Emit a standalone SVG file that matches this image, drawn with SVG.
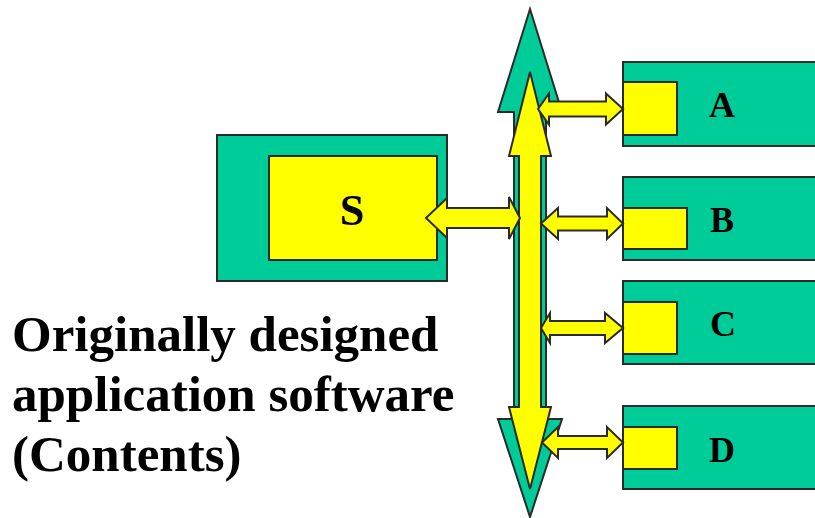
<svg xmlns="http://www.w3.org/2000/svg" width="815" height="518" viewBox="0 0 815 518">
  <style>
    .green { fill: #00CC99; stroke: #2a2a2a; stroke-width: 2; }
    .yellow { fill: #FFFF00; stroke: #2a2a2a; stroke-width: 2; stroke-linejoin: miter; }
    .label { font-family: "Liberation Serif", "Times New Roman", serif; font-weight: bold; fill: #000; }
  </style>
  <rect width="815" height="518" fill="#fff"/>

  <!-- bus: green double arrow with yellow double arrow on top -->
  <g id="bus">
    <polygon class="green" points="530,9 562,112 546,112 546,419 562,419 530,517 498,419 514,419 514,112 498,112"/>
    <polygon class="yellow" points="530,72 551,156 541,156 541,407 551,407 530,489 509,407 519,407 519,156 509,156"/>
  </g>

  <g id="node-S">
    <rect class="green" x="217" y="135" width="230" height="146"/>
    <rect class="yellow" x="269" y="156" width="168" height="104"/>
    <text class="label" x="352" y="225" font-size="44" text-anchor="middle">S</text>
  </g>

  <g id="node-A">
    <rect class="green" x="623" y="62" width="210" height="84"/>
    <rect class="yellow" x="623" y="82" width="54" height="53"/>
    <text class="label" x="722" y="117" font-size="36" text-anchor="middle">A</text>
  </g>

  <g id="node-B">
    <rect class="green" x="623" y="177" width="210" height="83"/>
    <rect class="yellow" x="623" y="208" width="64" height="41"/>
    <text class="label" x="722" y="232" font-size="36" text-anchor="middle">B</text>
  </g>

  <g id="node-C">
    <rect class="green" x="623" y="281" width="210" height="83"/>
    <rect class="yellow" x="623" y="302" width="54" height="52"/>
    <text class="label" x="723" y="336" font-size="36" text-anchor="middle">C</text>
  </g>

  <g id="node-D">
    <rect class="green" x="623" y="406" width="210" height="83"/>
    <rect class="yellow" x="623" y="427" width="54" height="42"/>
    <text class="label" x="722" y="462" font-size="36" text-anchor="middle">D</text>
  </g>

  <!-- double-headed block arrows between bus and nodes -->
  <g id="connectors">
    <polygon class="yellow" points="426,218 447,198 447,208 509,208 509,197 520,218 509,239 509,228 447,228 447,238"/>
    <polygon class="yellow" points="538,109 549,93.5 549,101.5 606,101.5 606,93.5 623,109 606,124.5 606,116.5 549,116.5 549,124.5"/>
    <polygon class="yellow" points="541,223.5 558,208 558,216.5 607,216.5 607,208 623,223.5 607,239 607,230.5 558,230.5 558,239"/>
    <polygon class="yellow" points="541,328 550,313 550,321 605,321 605,313 623,328 605,343 605,335 550,335 550,343"/>
    <polygon class="yellow" points="542,442.5 558,427 558,436 607,436 607,427 623,442.5 607,458 607,449 558,449 558,458"/>
  </g>

  <g id="caption">
    <text class="label" x="12" y="351" font-size="51">Originally designed</text>
    <text class="label" x="12" y="411" font-size="51">application software</text>
    <text class="label" x="12" y="471" font-size="51">(Contents)</text>
  </g>
</svg>
